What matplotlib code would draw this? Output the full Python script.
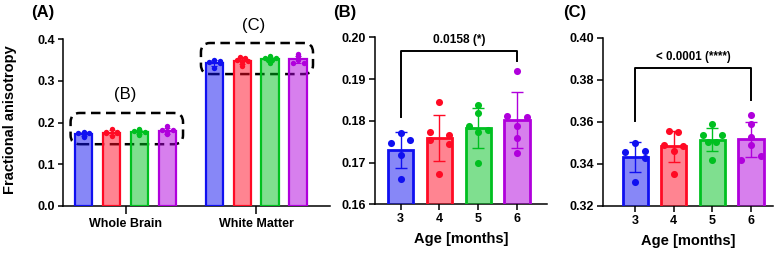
import numpy as np
import matplotlib
matplotlib.use("Agg")
import matplotlib.pyplot as plt
from matplotlib.patches import FancyBboxPatch

plt.rcParams['font.family'] = ['Liberation Sans', 'DejaVu Sans']
plt.rcParams['font.weight'] = 'bold'

# data
ages = ['3', '4', '5', '6']
regions = ['Whole Brain', 'White Matter']

wb_pts = [
    [0.1746, 0.17715, 0.1754, 0.1718, 0.1660],
    [0.18443, 0.17739, 0.17667, 0.1754, 0.17437, 0.16733],
    [0.18371, 0.1818, 0.17875, 0.1778, 0.17724, 0.1699],
    [0.19186, 0.18122, 0.18084, 0.17875, 0.17581, 0.17222],
]
wm_pts = [
    [0.34543, 0.34971, 0.34619, 0.34286, 0.33114],
    [0.35571, 0.35524, 0.34890, 0.34843, 0.34605, 0.33510],
    [0.35890, 0.35367, 0.35367, 0.35048, 0.35048, 0.34176],
    [0.36319, 0.35890, 0.35286, 0.34890, 0.34367, 0.34176],
]

# horizontal jitter of the dots (fraction of category spacing)
wb_jit = [
    [-0.25, 0.0, 0.25, 0.0, 0.0],
    [0.0, -0.25, 0.25, -0.25, 0.25, 0.0],
    [0.0, 0.0, -0.25, 0.25, 0.0, 0.0],
    [0.0, -0.25, 0.25, 0.0, 0.0, 0.0],
]
wm_jit = [
    [-0.25, 0.0, 0.25, 0.25, 0.0],
    [-0.12, 0.12, -0.25, 0.25, 0.0, 0.0],
    [0.0, -0.25, 0.25, -0.1, 0.1, 0.0],
    [0.0, 0.0, 0.0, 0.0, 0.25, -0.25],
]

edge = ['#1010f0', '#ff0a24', '#00c020', '#b000dc']

wb_mean = [np.mean(p) for p in wb_pts]
wb_sd = [np.std(p, ddof=1) for p in wb_pts]
wm_mean = [np.mean(p) for p in wm_pts]
wm_sd = [np.std(p, ddof=1) for p in wm_pts]

W, H = 782, 254
fig = plt.figure(figsize=(W / 100, H / 100), dpi=100)


def px_axes(l, r, t, b):
    return fig.add_axes([l / W, (H - b) / H, (r - l) / W, (b - t) / H])


def style(ax):
    ax.spines['top'].set_visible(False)
    ax.spines['right'].set_visible(False)
    for s in ['left', 'bottom']:
        ax.spines[s].set_linewidth(1.1)
    ax.tick_params(axis='both', width=1.1, length=4.5, pad=2, labelsize=9)
    for lab in ax.get_xticklabels() + ax.get_yticklabels():
        lab.set_fontweight('bold')


def fc(c):
    return matplotlib.colors.to_rgba(c, 0.5)


# ---------- (A) ----------
axA = px_axes(63, 330, 39, 206)
d = 0.214
bw = 0.134
for g, (means, sds, pts, jit) in enumerate([(wb_mean, wb_sd, wb_pts, wb_jit),
                                            (wm_mean, wm_sd, wm_pts, wm_jit)]):
    for i in range(4):
        x = g + (i - 1.5) * d
        axA.bar(x, means[i], width=bw, color=fc(edge[i]), edgecolor=edge[i],
                linewidth=1.6, zorder=3)
        axA.errorbar(x, means[i], yerr=sds[i], color=edge[i], capsize=2,
                     elinewidth=0.8, capthick=0.8, zorder=4)
        xs = x + np.array(jit[i]) * 0.17
        axA.scatter(xs, pts[i], s=15, color=edge[i], zorder=5, linewidths=0)

axA.set_xlim(-0.478, 1.564)
axA.set_ylim(0, 0.4)
axA.set_xticks([0, 1])
axA.set_xticklabels(regions)
axA.set_yticks([0, 0.1, 0.2, 0.3, 0.4])
axA.set_yticklabels(['0.0', '0.1', '0.2', '0.3', '0.4'])
style(axA)
axA.tick_params(axis='x', length=5.5, pad=3)
axA.tick_params(axis='y', length=3.5, pad=2)

asp = (0.4 / 167) / (1 / 130.75)
for (x0, x1, y0, y1) in [(-0.42, 0.44, 0.148, 0.2228), (0.577, 1.434, 0.316, 0.3904)]:
    box = FancyBboxPatch((x0, y0), x1 - x0, y1 - y0,
                         boxstyle="round,pad=0,rounding_size=0.07",
                         mutation_aspect=asp, fill=False, edgecolor='black',
                         linewidth=1.8, linestyle=(0, (3.8, 2.2)), zorder=2,
                         clip_on=False)
    axA.add_patch(box)
axA.text(0.0, 0.268, '(B)', ha='center', va='center', fontsize=12,
         fontweight='normal')
axA.text(0.983, 0.4335, '(C)', ha='center', va='center', fontsize=12,
         fontweight='normal', clip_on=False)
fig.text(10 / W, 1 - 120 / H, 'Fractional anisotropy', rotation=90,
         ha='center', va='center', fontsize=10.5, fontweight='bold')


# ---------- (B) and (C) ----------
def age_panel(ax, means, sds, pts, jit, ylim, yticks, ylabels, br, txt, fs):
    x = np.arange(4)
    for i in range(4):
        ax.bar(x[i], means[i], width=0.65, color=fc(edge[i]), edgecolor=edge[i],
               linewidth=2.0, zorder=3)
        ax.errorbar(x[i], means[i], yerr=sds[i], color=edge[i], capsize=4,
                    elinewidth=1.0, capthick=1.0, zorder=4)
        ax.scatter(x[i] + np.array(jit[i]), pts[i], s=26, color=edge[i],
                   zorder=5, linewidths=0, clip_on=False)
    ax.set_ylim(*ylim)
    ax.set_xticks(x)
    ax.set_xticklabels(ages)
    ax.set_yticks(yticks)
    ax.set_yticklabels(ylabels)
    ax.set_xlabel('Age [months]', fontsize=10.5, fontweight='bold', labelpad=5)
    style(ax)
    yh, yl, yr, yt = br
    ax.plot([0, 0, 3, 3], [yl, yh, yh, yr], color='black', lw=1.4,
            clip_on=False, zorder=6)
    ax.text(1.5, yt, txt, ha='center', va='center', fontsize=fs,
            fontweight='bold')


axB = px_axes(375, 547, 37.3, 204.3)
age_panel(axB, wb_mean, wb_sd, wb_pts, wb_jit, (0.16, 0.20),
          [0.16, 0.17, 0.18, 0.19, 0.20], ['0.16', '0.17', '0.18', '0.19', '0.20'],
          (0.1968, 0.1810, 0.1943, 0.1994), '0.0158 (*)', 8.6)
axB.set_xlim(-0.66, 3.77)

axC = px_axes(603, 773, 37.7, 205.7)
age_panel(axC, wm_mean, wm_sd, wm_pts, wm_jit, (0.32, 0.40),
          [0.32, 0.34, 0.36, 0.38, 0.40], ['0.32', '0.34', '0.36', '0.38', '0.40'],
          (0.3854, 0.3605, 0.3703, 0.3906), '< 0.0001 (****)', 8.3)
axC.set_xlim(-0.83, 3.57)

for xp, lab in [(31, '(A)'), (333, '(B)'), (563, '(C)')]:
    fig.text(xp / W, 1 - 12 / H, lab, ha='left', va='center', fontsize=12,
             fontweight='bold')

fig.savefig('out.png', dpi=100)
